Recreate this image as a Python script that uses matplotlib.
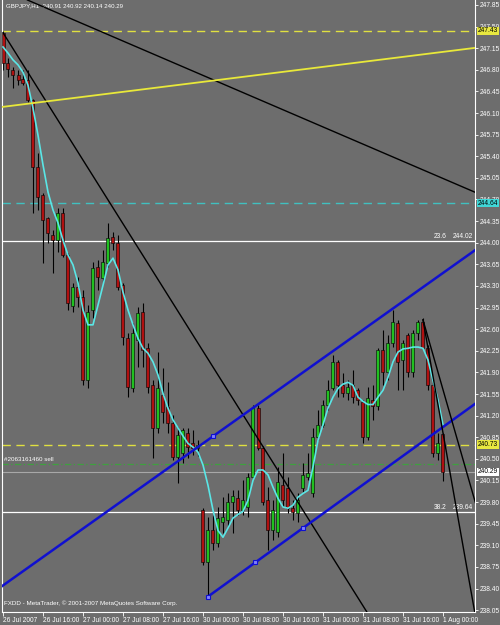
import numpy as np
import matplotlib
matplotlib.use('Agg')
import matplotlib.pyplot as plt
import matplotlib.transforms as mtransforms

plt.rcParams['font.family'] = ['Liberation Sans', 'DejaVu Sans']

# GBPJPY H1 candles, 26 Jul 2007 08:00 .. 1 Aug 2007 00:00
opens = [247.40, 246.91, 246.80, 246.72, 246.65, 246.63, 246.31, 245.22, 244.77, 244.40,
         244.12, 244.04, 244.48, 243.80, 242.98, 243.28, 243.12, 241.77, 242.91, 243.61,
         243.43, 243.67, 244.09, 243.99, 243.31, 242.45, 241.64, 242.42, 242.88, 242.29,
         241.69, 241.00, 241.53, 241.34, 241.08, 240.53, 240.59, 240.92, 240.75, 240.67,
         239.67, 238.83, 239.34, 239.13, 239.47, 239.51, 239.80, 239.86, 239.67, 239.72,
         240.20, 241.32, 240.67, 239.83, 239.34, 239.31, 240.07, 240.02, 239.70, 239.62,
         240.02, 240.20, 239.94, 240.85, 241.05, 241.37, 241.64, 242.07, 241.69, 241.56,
         241.69, 241.61, 241.42, 240.85, 241.45, 241.35, 242.26, 241.90, 242.37, 242.70,
         242.10, 242.50, 241.90, 242.54, 242.71, 242.29, 241.69, 240.59, 240.91]
highs = [247.43, 246.99, 246.84, 246.80, 246.80, 246.80, 246.33, 245.45, 244.80, 244.41,
         244.20, 244.56, 244.56, 243.83, 243.35, 243.44, 243.23, 242.99, 243.69, 243.72,
         243.88, 244.32, 244.17, 244.12, 243.35, 242.54, 242.70, 242.96, 243.02, 242.37,
         241.77, 242.23, 241.97, 241.74, 241.21, 241.01, 241.00, 241.00, 240.96, 240.80,
         239.70, 239.56, 239.59, 239.72, 239.88, 239.94, 239.99, 239.99, 240.15, 240.27,
         241.37, 241.37, 240.71, 240.04, 239.83, 240.37, 240.59, 240.20, 239.83, 239.94,
         240.43, 240.59, 241.00, 241.29, 241.45, 241.77, 242.18, 242.10, 241.89, 241.77,
         241.94, 241.64, 241.45, 241.66, 241.69, 242.29, 242.58, 242.50, 242.91, 242.75,
         242.42, 242.54, 242.58, 242.75, 242.78, 242.34, 241.73, 240.92, 240.92]
lows = [246.80, 246.68, 246.50, 246.55, 246.55, 246.28, 244.48, 244.53, 243.67, 243.99,
        243.51, 243.85, 243.77, 242.91, 242.88, 242.96, 241.69, 241.64, 242.78, 243.23,
        243.36, 243.61, 243.88, 243.23, 242.34, 241.50, 241.58, 241.98, 241.98, 241.56,
        240.51, 240.92, 241.08, 240.92, 240.48, 240.11, 240.43, 240.51, 240.56, 240.55,
        238.78, 238.26, 239.02, 239.07, 239.30, 239.39, 239.30, 239.59, 239.59, 239.56,
        240.19, 240.64, 239.75, 239.02, 239.18, 239.23, 239.72, 239.62, 239.51, 239.47,
        239.96, 240.15, 239.88, 240.80, 241.01, 241.29, 241.61, 241.50, 241.50, 241.45,
        241.40, 241.37, 240.75, 240.80, 241.13, 241.29, 241.69, 241.77, 242.31, 241.61,
        241.61, 241.82, 241.82, 242.42, 242.29, 241.61, 240.53, 240.48, 240.14]
closes = [246.91, 246.81, 246.72, 246.63, 246.59, 246.31, 245.22, 244.74, 244.37, 244.16,
          244.04, 244.48, 243.80, 243.02, 243.28, 243.12, 241.77, 242.88, 243.59, 243.44,
          243.69, 244.07, 243.99, 243.28, 242.47, 241.66, 242.54, 242.86, 242.26, 241.66,
          241.00, 241.64, 241.26, 241.08, 240.53, 240.88, 240.96, 240.69, 240.67, 240.72,
          238.83, 239.34, 239.13, 239.54, 239.56, 239.80, 239.90, 239.67, 239.83, 240.20,
          241.32, 240.67, 239.80, 239.34, 239.67, 240.12, 239.83, 239.70, 239.64, 239.83,
          240.24, 240.27, 240.85, 241.05, 241.37, 241.61, 242.07, 241.69, 241.56, 241.66,
          241.50, 241.45, 240.85, 241.48, 241.35, 242.26, 241.90, 242.37, 242.71, 242.07,
          242.37, 241.90, 242.54, 242.71, 242.29, 241.69, 240.59, 240.75, 240.29]
# moving average
ma = [247.17, 247.07, 246.96, 246.88, 246.76, 246.55, 246.18, 245.74, 245.26, 244.82,
      244.53, 244.32, 244.04, 243.80, 243.64, 243.35, 242.91, 242.67, 242.67, 242.99,
      243.31, 243.64, 243.75, 243.56, 243.20, 242.91, 242.67, 242.45, 242.29, 242.21,
      242.07, 241.86, 241.56, 241.32, 241.13, 241.00, 240.87, 240.75, 240.69, 240.61,
      240.40, 240.07, 239.67, 239.34, 239.23, 239.38, 239.54, 239.60, 239.65, 239.83,
      240.15, 240.32, 240.32, 240.24, 240.04, 239.86, 239.72, 239.70, 239.75, 239.88,
      239.94, 239.99, 240.37, 240.80, 241.05, 241.32, 241.50, 241.64, 241.71, 241.74,
      241.69, 241.50, 241.43, 241.38, 241.38, 241.50, 241.61, 241.82, 242.07, 242.23,
      242.28, 242.29, 242.31, 242.31, 242.29, 242.10, 241.77, 241.45, 241.05]

time_ticks = [0, 8, 16, 24, 32, 40, 48, 56, 64, 72, 80, 88]
time_labels = ['26 Jul 2007', '26 Jul 16:00', '27 Jul 00:00', '27 Jul 08:00',
               '27 Jul 16:00', '30 Jul 00:00', '30 Jul 08:00', '30 Jul 16:00',
               '31 Jul 00:00', '31 Jul 08:00', '31 Jul 16:00', '1 Aug 00:00']
price_ticks = np.round(np.arange(238.05, 247.86, 0.35), 2)

# drawn objects: (bar, price) anchors
trend_long = [(0, 248.10), (88, 245.04)]
trend_steep = [(0, 247.40), (72, 238.12)]
yellow_trend = [(0, 246.20), (88, 247.09)]
chan_upper = [(0, 238.45), (88, 243.51)]
chan_upper_pts = [(42, 240.87)]
chan_lower = [(41, 238.27), (60, 239.38)]
chan_lower_pts = [(41, 238.27), (50.5, 238.83), (60, 239.38)]
apex_a = [(84, 242.75), (88, 240.92)]
apex_b = [(84, 242.75), (88, 241.62)]

level_yellow = [247.43, 240.73]
level_cyan = 244.64
fibo_236 = 244.02
fibo_382 = 239.64
order_sell = 240.42
bid = 240.29

fs = 4.8
bg = '#6d6d6d'
fig = plt.figure(figsize=(5, 6.25), dpi=100, facecolor=bg)
ax = fig.add_axes([2 / 500, 13 / 625, 473 / 500, 612 / 625], facecolor=bg)

o = np.array(opens)
c = np.array(closes)
x = np.arange(len(c))
up = c >= o

# horizontal levels
for p in level_yellow:
    ax.axhline(p, color='#e0e040', lw=1, dashes=(6, 4), zorder=1)
ax.axhline(level_cyan, color='#40c0c0', lw=1, dashes=(6, 4), zorder=1)
ax.axhline(fibo_236, color='white', lw=0.9, zorder=1)
ax.axhline(fibo_382, color='white', lw=0.9, zorder=1)
ax.axhline(order_sell, color='#3fa03f', lw=0.9, dashes=(5, 2, 1, 2), zorder=1)
ax.axhline(bid, color='#a8a8a8', lw=0.8, zorder=1)

# candles
ax.vlines(x, lows, highs, color='black', lw=0.8, zorder=2)
body = np.where(np.abs(c - o) < 0.02, 0.02, c - o)
ax.bar(x, body, bottom=o, width=0.6, color=np.where(up, '#20c020', '#b01010'),
       edgecolor='black', linewidth=0.4, zorder=3)

ax.plot(x, ma, color='#5ae6e6', lw=1.2, zorder=4)


def ray(pts, **kw):
    (x1, y1), (x2, y2) = pts
    x_end = 150
    ax.plot([x1, x_end], [y1, y1 + (y2 - y1) * (x_end - x1) / (x2 - x1)], **kw)


ax.axline(*trend_long, color='black', lw=1, zorder=5)
ray(trend_steep, color='black', lw=1, zorder=5)
ax.axline(*yellow_trend, color='#e8e83a', lw=1.3, zorder=5)
ax.axline(*chan_upper, color='#1010d0', lw=1.8, zorder=5)
ray(chan_lower, color='#1010d0', lw=1.8, zorder=5)
ray(apex_a, color='black', lw=1, zorder=5)
ray(apex_b, color='black', lw=1, zorder=5)
for px, py in chan_upper_pts + chan_lower_pts:
    ax.plot(px, py, marker='s', ms=3, mfc='#8080ff', mec='#1010d0', mew=0.8, zorder=6)

ax.set_xlim(-0.2, 94.4)
ax.set_ylim(238.02, 247.93)

for s in ['left', 'right', 'bottom']:
    ax.spines[s].set_color('white')
    ax.spines[s].set_linewidth(0.8)
ax.spines['top'].set_visible(False)

ax.yaxis.tick_right()
ax.set_yticks(price_ticks)
ax.set_yticklabels([f'{v:.2f}' for v in price_ticks])
ax.tick_params(axis='y', colors='white', labelsize=fs, length=2.5, pad=1, width=0.6)
ax.set_xticks(time_ticks)
ax.set_xticklabels(time_labels)
ax.tick_params(axis='x', colors='white', labelsize=fs, length=3, pad=0.5, width=0.6)
for lab in ax.get_xticklabels():
    lab.set_horizontalalignment('left')

# price boxes on the right scale
trans = mtransforms.blended_transform_factory(ax.transAxes, ax.transData)
boxes = [(level_yellow[0], '#e8e840'), (level_cyan, '#40d8d8'),
         (level_yellow[1], '#e8e840'), (bid, 'white')]
for p, col in boxes:
    ax.text(1.006, p, f'{p:.2f}', transform=trans, fontsize=fs, color='black',
            ha='left', va='center', zorder=10, clip_on=False,
            bbox=dict(facecolor=col, edgecolor='none', pad=0.6))

ax.text(88.8, fibo_236 + 0.02, '23.6', fontsize=fs, color='white', ha='right', va='bottom')
ax.text(94.0, fibo_236 + 0.02, f'{fibo_236:.2f}', fontsize=fs, color='white', ha='right', va='bottom')
ax.text(88.8, fibo_382 + 0.02, '38.2', fontsize=fs, color='white', ha='right', va='bottom')
ax.text(94.0, fibo_382 + 0.02, f'{fibo_382:.2f}', fontsize=fs, color='white', ha='right', va='bottom')
ax.text(0.3, order_sell + 0.03, '#2063161460 sell', fontsize=4.5, color='white', va='bottom')

ax.text(0.008, 0.995, 'GBPJPY,H1  240.91 240.92 240.14 240.29', transform=ax.transAxes,
        fontsize=4.4, color='white', va='top')
ax.text(0.005, 0.015, 'FXDD - MetaTrader, \u00a9 2001-2007 MetaQuotes Software Corp.',
        transform=ax.transAxes, fontsize=4.5, color='white', va='center')

fig.savefig('out.png', dpi=100, facecolor=bg)
